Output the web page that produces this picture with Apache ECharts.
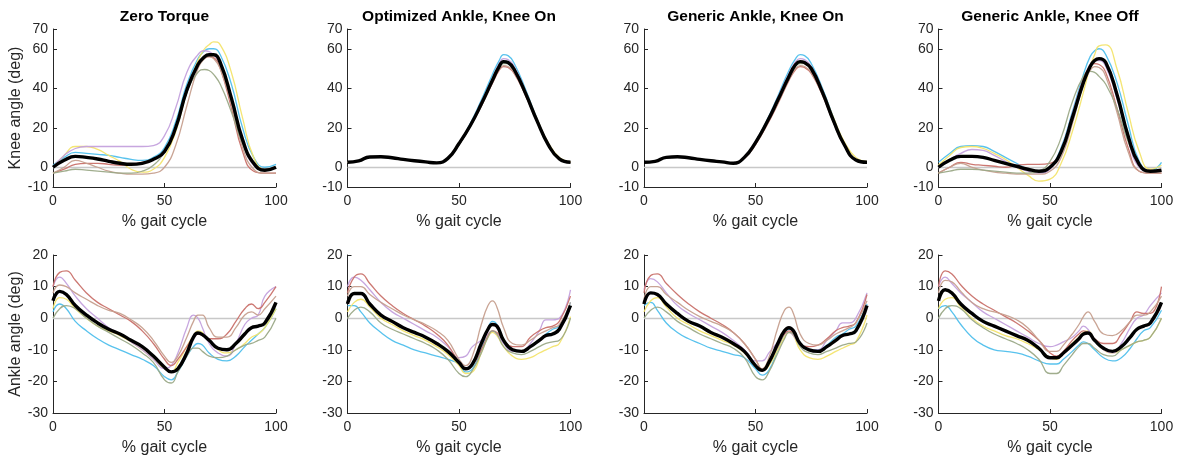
<!DOCTYPE html>
<html>
<head>
<meta charset="utf-8">
<script src="https://cdn.jsdelivr.net/npm/echarts@6/dist/echarts.min.js"></script>
<style>
  html, body { margin: 0; padding: 0; background: #fff; }
  #chart { width: 1181px; height: 462px; }
</style>
</head>
<body>
<div id="chart"></div>
<script>
// Sample points (% gait cycle) for the knee and ankle curves
const KNEE_X  = [0, 5, 10, 15, 20, 25, 30, 35, 40, 45, 50, 55, 60, 65, 68, 70, 72, 75, 80, 85, 90, 95, 100];
const ANKLE_X = [0, 3, 6, 10, 15, 20, 25, 30, 35, 40, 45, 50, 53, 56, 60, 63, 65, 67, 70, 74, 78, 82, 86, 89, 92, 95, 100];

const CONDITIONS = ['Zero Torque', 'Optimized Ankle, Knee On', 'Generic Ankle, Knee On', 'Generic Ankle, Knee Off'];
const SUBJECT_COLORS = ['#4fbfec', '#f3e46c', '#c4a1dd', '#c9716a', '#c69f8e', '#9ba987'];
const X_TICKS = [0, 50, 100];
const KNEE_TICKS = [-10, 0, 20, 40, 60, 70];
const ANKLE_TICKS = [-30, -20, -10, 0, 10, 20];

// Knee angle (deg): six subjects (blue, yellow, purple, red, brown, green) then the mean
const kneeZeroTorque = [
  [1, 5, 7.5, 7, 6.5, 6, 5, 4, 3.5, 5, 10, 23, 42, 55, 59, 60, 60, 57, 42, 20, 5, 0, 1.5],
  [0, 6, 10.5, 10.5, 9, 6, 3, -1, -2.5, -1, 5, 18, 38, 54, 60, 62, 63.5, 62, 48, 25, 5, -1, 0],
  [0, 6, 9.5, 10.5, 10.5, 10.5, 10.5, 10.5, 10.5, 11, 16, 30, 48, 57, 59, 58.5, 57, 52, 34, 13, 1, -1, 0],
  [-3, -1, 1.5, 2, 2, 1.5, 1, 1.5, 2.5, 4, 8, 20, 38, 52, 55.5, 56, 55.5, 50, 30, 8, -2, -3, -3],
  [-3, 0, 3.5, 2, 0, -2, -3, -3.5, -3.5, -3, 0, 11, 31, 50, 55, 56, 55, 50, 32, 10, -1, -3, -3],
  [-3, -2, -1, -1.5, -2, -2.5, -3, -3, -2, 1, 8, 20, 38, 48, 49.5, 49, 47, 42, 28, 12, 2, -1, 0],
  [0, 3.5, 5.5, 5, 4.2, 3, 2, 1.5, 2, 4, 8, 20, 39, 52, 56, 57, 57, 53, 35, 14, 2, -1.5, 0]
];
const kneeOptimizedOn = [
  [2.5, 3.2, 5.2, 5.3, 4.8, 4, 3.3, 2.7, 2.2, 4.5, 12, 22, 34, 47, 54, 57, 56.5, 52, 39, 24.5, 12, 4.2, 2.5],
  [2.5, 3.2, 5.2, 5.3, 4.8, 4, 3.3, 2.7, 2.2, 4.5, 11.5, 21, 32, 44, 51, 53, 53, 49.5, 38, 24.5, 12.5, 5, 2.8],
  [2.5, 3.2, 5.2, 5.3, 4.8, 4, 3.3, 2.7, 2.2, 4.5, 12, 21.5, 33, 45, 52.5, 55, 54.5, 50.5, 38, 24, 12, 4.2, 2.5],
  [2.5, 3.2, 5.2, 5.3, 4.8, 4, 3.3, 2.7, 2.2, 4.5, 11.5, 20.5, 31, 42.5, 49, 51, 50.5, 47, 36, 23, 11.5, 4.2, 2.5],
  [2.5, 3.2, 5.2, 5.3, 4.8, 4, 3.3, 2.7, 2.2, 4.5, 11.5, 20.5, 31, 43, 49.5, 51.5, 51, 47.5, 36, 23, 11.5, 4.2, 2.5],
  [2.5, 3.2, 5.2, 5.3, 4.8, 4, 3.3, 2.7, 2.2, 4.5, 11.5, 21, 32, 44, 50.5, 52.5, 52.5, 48.5, 37, 23.5, 11.5, 4.2, 2.5],
  [2.5, 3.2, 5.2, 5.3, 4.8, 4, 3.3, 2.7, 2.2, 4.5, 12, 21, 32, 44, 51, 53.5, 53, 49, 37, 23.5, 11.5, 4.2, 2.5]
];
const kneeGenericOn = [
  [2.5, 3, 5, 5.3, 4.8, 4, 3.3, 2.7, 2, 5, 13, 23.5, 36, 49, 55, 57, 56.5, 52.5, 40, 25, 11.5, 3.7, 2.5],
  [2.5, 3, 5, 5.3, 4.8, 4, 3.3, 2.7, 2, 5, 12, 22, 33.5, 45.5, 51.5, 53, 53, 50, 39, 25, 12.5, 5, 3],
  [2.5, 3, 5, 5.3, 4.8, 4, 3.3, 2.7, 2, 5, 12.5, 23, 35, 47.5, 53.5, 55, 54.5, 51, 39, 24, 11, 3.7, 2.5],
  [2.5, 3, 5, 5.3, 4.8, 4, 3.3, 2.7, 2, 4.5, 11.5, 21, 32, 44, 49.5, 51, 50.5, 47.5, 36.5, 22.5, 10.5, 3.7, 2.5],
  [2.5, 3, 5, 5.3, 4.8, 4, 3.3, 2.7, 2, 4.5, 11.5, 21.5, 32.5, 44.5, 50, 51.5, 51, 48, 37, 23, 11, 3.7, 2.5],
  [2.5, 3, 5, 5.3, 4.8, 4, 3.3, 2.7, 2, 5, 12, 22.5, 33.5, 45.5, 51.5, 52.5, 52.5, 49, 37.5, 23, 11, 3.7, 2.5],
  [2.5, 3, 5, 5.3, 4.8, 4, 3.3, 2.7, 2, 5, 12.5, 22.5, 34, 46, 52, 53.5, 53, 50, 38, 23.5, 11, 3.7, 2.5]
];
const kneeGenericOff = [
  [2.5, 7, 10.5, 11, 10.5, 8, 5, 2, -1, -2.5, 0, 10, 28, 47, 56, 59, 60, 57, 43, 22, 3, -2, 2.5],
  [1, 6, 10, 10.5, 9.5, 7, 4, 0, -4, -7, -6, 2, 18, 38, 51, 57, 61.5, 62, 50, 28, 8, -1, 1],
  [0, 4, 7, 9, 8.5, 6, 3, 0, -2, -3, -1, 9, 27, 45, 52, 54, 54, 51, 35, 14, 0, -2, -2],
  [-3, 0, 2.5, 1.5, 1, 0.5, 0, 1, 1.5, 1.5, 2, 8, 25, 45, 51, 52.5, 52, 48, 30, 10, -2, -3, -3],
  [-3, 0, 2, 0, -1.5, -2.5, -3, -3.5, -3.5, -3.5, -2, 5, 22, 42, 49, 51, 50.5, 46, 28, 8, -2, -3, -3],
  [-3, -2, -1, -1, -1.5, -2, -2.5, -3, -3, -2, 3, 15, 33, 46, 48.5, 48, 46, 42, 30, 13, 2, -2, -2],
  [0, 3.5, 5.5, 5.5, 5, 3.5, 2, 0.5, -1, -2, 0, 8, 25, 43, 51, 54, 55, 53, 37, 16, 1.5, -2, -1.5]
];

// Ankle angle (deg): same subject order, mean last
const ankleZeroTorque = [
  [2, 4.5, 3, -1, -4, -6.5, -8.5, -10, -11.5, -13, -15, -18.5, -19.5, -17, -12, -9, -8, -8.5, -11, -13, -13.5, -12, -9, -7, -5, -3, 3],
  [3, 6.5, 6, 3, 0, -2.5, -4, -5.5, -7.5, -10, -13, -16, -17, -14, -9, -5.5, -4, -4.5, -7, -10, -11, -10, -8, -6, -5, -3, 3],
  [10, 13, 11, 7, 3, 0, -3, -5, -7.5, -10, -13, -16, -15, -11, -3, 1, 0, -3, -8, -11, -12, -8, -2, 0, 1, 7, 10],
  [10, 14.5, 15, 12, 8, 5, 3, 1, -1, -4, -8, -13, -15, -13, -9, -6, -5, -5.5, -6.5, -6.5, -5, -1, 3, 4.5, 3, 5, 10],
  [8, 10.5, 10, 8, 6, 4, 2.5, 1.5, -0.5, -3, -7, -12, -14, -12, -6, -1, 1, 1, -3, -6, -6, -3, 1, 2, 1, 3, 7],
  [0, 3, 4, 3, 0, -2.5, -4.5, -6.5, -8.5, -11, -14, -19.5, -20.5, -17, -12, -9.5, -9.5, -10.5, -12, -12.5, -12, -10, -8.5, -8, -7, -6, 0],
  [5.5, 8.5, 7.5, 4, 1, -1.5, -3.5, -5, -7, -9, -12, -15.5, -17, -16, -11, -6, -4.7, -5.2, -7, -9.5, -10, -8, -5, -3, -2.5, -1.5, 5]
];
const ankleOptimizedOn = [
  [4, 4, 2, -1.5, -4.5, -7, -8.5, -10, -11, -12, -13, -14.5, -17, -16, -10, -3.5, -1, -2, -7, -10, -10.5, -9, -7, -5, -3.5, -2.5, 5],
  [2, 5, 6, 3.5, 0, -2, -4, -5.5, -7, -9, -11.5, -15, -17.5, -17, -11, -6, -4.5, -5.5, -9, -12, -13, -12.5, -11, -10, -9, -8, 0.5],
  [10, 13, 12, 9, 5, 2, 0, -2, -4, -6, -9, -12.5, -12, -9, -7, -5, -4, -5, -8, -10.5, -10.5, -8, -4, -0.5, -0.5, 0, 9],
  [8, 13, 14, 11, 7, 4, 1.5, -0.5, -2.5, -5, -8.5, -14, -16, -15, -10, -5.5, -4, -4.5, -7, -9, -9, -6, -4, -3, -2.5, -1, 7],
  [7, 10, 10, 7.5, 5, 3, 1, -0.5, -2, -4, -7, -13, -15, -12, -2, 4, 5.5, 3.5, -3, -8, -8.5, -7, -5, -4, -3, -2, 5],
  [0, 2.5, 3.5, 2, -1.5, -3.5, -5, -6.5, -8, -10, -13, -17.5, -18.5, -16.5, -11, -6, -4, -5, -9, -11, -11.5, -10.5, -9, -8, -7.5, -7, 0],
  [4.5, 7.8, 7.8, 4.5, 1, -1, -3, -4.5, -6, -8, -10.5, -14, -16, -14.5, -8, -3.5, -2, -2.5, -7, -10, -10.5, -9, -7, -5.5, -5, -3.5, 4]
];
const ankleGenericOn = [
  [4, 5, 2.5, -1.5, -4.5, -6.5, -8, -9.5, -10.5, -11.5, -12.5, -16, -18, -16.5, -10, -5, -3.5, -4, -8, -10, -10, -8.5, -6, -5, -3.5, -2.5, 4.5],
  [2, 5.5, 6.5, 3.5, 0, -2, -4, -5.5, -7, -8.5, -11, -15, -16.5, -15, -10, -6, -4.5, -5.5, -10, -12.5, -13, -12, -10.5, -9.5, -8.5, -7.5, 1],
  [9, 12.5, 11.5, 8, 4, 1.5, -0.5, -2.5, -4.5, -7, -10, -13.5, -13.5, -11, -7.5, -5, -4.5, -5.5, -8.5, -10, -10, -7, -4, -1.5, -1.5, 0, 8],
  [8, 13.5, 14, 11, 7.5, 4.5, 2, 0, -2, -4.5, -8, -13, -16, -14, -9, -5, -4, -5, -8, -9, -8.5, -6.5, -4, -3, -2.5, -1.5, 7.5],
  [6, 10, 10, 7.5, 5, 2.5, 0.5, -1, -2.5, -4.5, -8, -13, -16, -12.5, -3, 2.5, 3.5, 1.5, -5, -8, -8.5, -7, -5, -4, -3, -1.5, 5.5],
  [0, 2.5, 3.5, 2, -1, -3, -5, -6.5, -8, -9.5, -12.5, -18.5, -19.5, -17, -11, -6.5, -4.5, -5, -9, -11, -11.5, -10.5, -9.5, -8.5, -8, -7.5, -1.5],
  [4.5, 8, 7.5, 4.5, 1.5, -1, -2.5, -4.5, -6, -8, -10.5, -15, -16.5, -14, -8, -4, -3, -4, -8, -10, -10.5, -9, -7, -5.5, -5, -4, 4]
];
const ankleGenericOff = [
  [3, 4, 2, -2, -6, -8.5, -10, -10.5, -11, -12, -13.5, -14.5, -14.5, -13, -10.5, -8.5, -7.5, -8, -10, -12.5, -13.5, -12.5, -9.5, -6.5, -4, -3, 2.5],
  [3, 6, 6.5, 3.5, 0, -2.5, -4, -5.5, -6.5, -8, -10, -12.5, -13, -11, -8, -6, -4.5, -4, -7, -10, -11, -10, -8.5, -7.5, -7, -6, 0],
  [10, 13, 11, 8, 5, 2, 0, -2, -4, -6, -8, -9, -8.5, -7.5, -6, -4, -2.5, -3.5, -7, -10, -11, -8, -3, 0, 1, 4, 8],
  [10, 15, 14, 10.5, 7, 4.5, 2.5, 0.5, -1.5, -4, -7, -11, -12, -10.5, -7, -5, -4, -4.5, -6.5, -8, -8, -5, -1, 2, 1.5, 1.5, 10],
  [8, 12, 11.5, 8.5, 5, 3, 2, 1, -0.5, -3, -7, -10.5, -10.5, -8.5, -5, -2, 0.5, 2, -1, -5, -5.5, -4, -1, 1, 1, 2, 7],
  [0, 3, 4, 3, -0.5, -3, -5, -6.5, -8, -10, -13, -17.5, -17.5, -15, -11.5, -9, -8, -8, -9.5, -11.5, -12, -10, -8.5, -7.5, -7, -6, 0],
  [5.5, 9, 8, 4.5, 1.5, -1, -2.5, -4, -5.5, -7, -9.5, -12.5, -12.5, -11, -8.5, -6.5, -5, -4.7, -7, -9.5, -10.5, -9, -6, -3.5, -2.5, -1.5, 5]
];

const KNEE_PANELS = [kneeZeroTorque, kneeOptimizedOn, kneeGenericOn, kneeGenericOff];
const ANKLE_PANELS = [ankleZeroTorque, ankleOptimizedOn, ankleGenericOn, ankleGenericOff];

// ---- layout ----
const FONT = '"Liberation Sans", Arial, Helvetica, sans-serif';
const AXIS_COLOR = '#262626';
const PANEL_LEFT = [53, 347.5, 644, 938.5];
const PANEL_WIDTH = 223;
const ROWS = [
  { top: 29,  height: 158, x: KNEE_X,  panels: KNEE_PANELS,  min: -10, max: 70, ticks: KNEE_TICKS,  name: 'Knee angle (deg)' },
  { top: 255, height: 158, x: ANKLE_X, panels: ANKLE_PANELS, min: -30, max: 20, ticks: ANKLE_TICKS, name: 'Ankle angle (deg)' }
];

const toPairs = (xs, ys) => xs.map((x, i) => [x, ys[i]]);

const grid = [], xAxis = [], yAxis = [], series = [], graphic = [];

ROWS.forEach((row, r) => {
  row.panels.forEach((panel, c) => {
    const idx = grid.length;
    grid.push({ left: PANEL_LEFT[c], top: row.top, width: PANEL_WIDTH, height: row.height, containLabel: false });

    xAxis.push({
      type: 'value', gridIndex: idx, min: 0, max: 100, interval: 50,
      name: '% gait cycle', nameLocation: 'middle', nameGap: 27,
      nameTextStyle: { fontFamily: FONT, fontSize: 16, color: AXIS_COLOR },
      axisLine: { show: true, onZero: false, lineStyle: { color: AXIS_COLOR, width: 1 } },
      axisTick: { show: true, inside: true, length: 4, customValues: X_TICKS, lineStyle: { color: AXIS_COLOR } },
      axisLabel: { margin: 7, fontFamily: FONT, fontSize: 14, color: AXIS_COLOR, customValues: X_TICKS },
      splitLine: { show: false }
    });

    yAxis.push({
      type: 'value', gridIndex: idx, min: row.min, max: row.max, interval: 10,
      name: c === 0 ? row.name : '', nameLocation: 'middle', nameRotate: 90, nameGap: 28,
      nameTextStyle: { fontFamily: FONT, fontSize: 16, color: AXIS_COLOR },
      axisLine: { show: true, onZero: false, lineStyle: { color: AXIS_COLOR, width: 1 } },
      axisTick: { show: true, inside: true, length: 4, customValues: row.ticks, lineStyle: { color: AXIS_COLOR } },
      axisLabel: { margin: 5, fontFamily: FONT, fontSize: 14, color: AXIS_COLOR, customValues: row.ticks },
      splitLine: { show: false }
    });

    panel.forEach((ys, k) => {
      const isMean = k === panel.length - 1;
      const s = {
        type: 'line', xAxisIndex: idx, yAxisIndex: idx,
        data: toPairs(row.x, ys),
        smooth: 0.5, symbol: 'none', silent: true,
        z: isMean ? 5 : 3,
        lineStyle: isMean
          ? { color: '#000', width: 3.4 }
          : { color: SUBJECT_COLORS[k], width: 1.3, opacity: 0.95 }
      };
      if (k === 0) {
        s.markLine = {
          silent: true, symbol: ['none', 'none'], label: { show: false },
          lineStyle: { color: '#c8c8c8', width: 1.4, type: 'solid' },
          data: [{ yAxis: 0 }], z: 1
        };
      }
      series.push(s);
    });

    if (r === 0) {
      graphic.push({
        type: 'text', x: PANEL_LEFT[c] + PANEL_WIDTH / 2, y: 17,
        style: {
          text: CONDITIONS[c], fill: '#000', font: 'bold 15.5px ' + FONT,
          textAlign: 'center', textVerticalAlign: 'middle'
        }
      });
    }
  });
});

const chart = echarts.init(document.getElementById('chart'), null, { renderer: 'canvas' });
chart.setOption({ animation: false, backgroundColor: '#fff', grid, xAxis, yAxis, series, graphic });
</script>
</body>
</html>
